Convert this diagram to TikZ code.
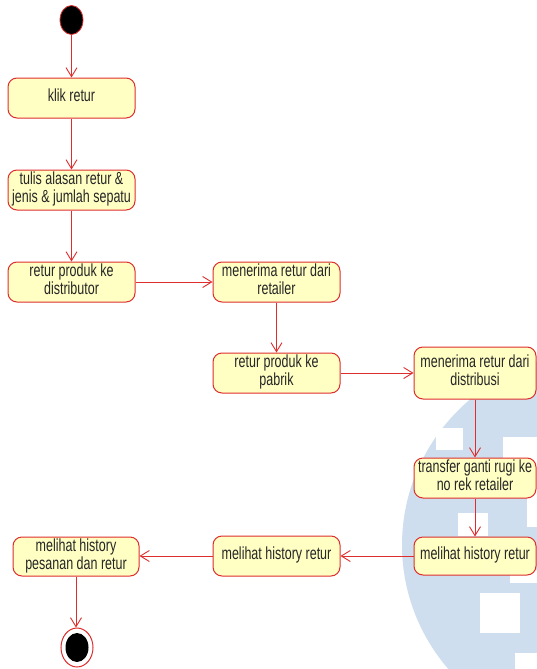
\documentclass[tikz,border=0pt]{standalone}
\usepackage{fontspec}
\setmainfont{Liberation Sans}
\usetikzlibrary{arrows.meta,shapes.geometric}
\definecolor{umlred}{RGB}{222,45,45}
\definecolor{umlfill}{RGB}{255,255,196}
\definecolor{wmblue}{RGB}{206,222,238}
% activity label: centred lines, stretched a little vertically
\newcommand{\lbl}[1]{\scalebox{1}[1.4]{\fontsize{12.5}{12}\selectfont\begin{tabular}{@{}c@{}}#1\end{tabular}}}
\begin{document}
\begin{tikzpicture}[x=1pt,y=-1pt,
  act/.style={rectangle, rounded corners=9pt, draw=umlred, fill=umlfill,
    line width=1pt, inner sep=0pt, align=center, text=black!85},
  flow/.style={draw=umlred, line width=0.9pt,
    -{Straight Barb[length=9pt,width=11pt,line width=0.9pt]}},
  startnode/.style={ellipse, draw=umlred, fill=black, line width=0.8pt,
    minimum width=23pt, minimum height=29pt, inner sep=0pt},
  endouter/.style={ellipse, draw=umlred, fill=white, line width=1pt,
    minimum width=32pt, minimum height=39pt, inner sep=0pt},
  endinner/.style={ellipse, fill=black,
    minimum width=23pt, minimum height=29pt, inner sep=0pt}]
\useasboundingbox (0,0) rectangle (537,669);

% faint background emblem
\begin{scope}
  \clip (0,0) rectangle (537,669);
  \fill[wmblue] (600,545) ellipse [x radius=198, y radius=193];
  \fill[white] (436,428) rectangle (463,450);
  \fill[white] (503,437) rectangle (537,458);
  \fill[white] (527,458) rectangle (537,527);
  \fill[white] (458,513) rectangle (488,536);
  \fill[white] (510,570) rectangle (537,583);
  \fill[white] (480,593) rectangle (520,633);
  \fill[white] (515,653) rectangle (537,669);
\end{scope}

% states
\node[startnode] (start) at (71.5,20) {};
\node[act, minimum width=127pt, minimum height=40pt] (klik) at (71.5,98) {\lbl{klik retur}};
\node[act, minimum width=127pt, minimum height=40pt] (tulis) at (71.5,190) {\lbl{tulis alasan retur \&\\jenis \& jumlah sepatu}};
\node[act, minimum width=127pt, minimum height=40pt] (distr) at (71.5,282) {\lbl{retur produk ke\\distributor}};
\node[act, minimum width=127pt, minimum height=40pt] (retailer) at (276.5,282) {\lbl{menerima retur dari\\retailer}};
\node[act, minimum width=127pt, minimum height=40pt] (pabrik) at (276.5,373) {\lbl{retur produk ke\\pabrik}};
\node[act, minimum width=122pt, minimum height=52pt] (distribusi) at (475,373) {\lbl{menerima retur dari\\distribusi}};
\node[act, minimum width=122pt, minimum height=40pt] (transfer) at (475,478) {\lbl{transfer ganti rugi ke\\no rek retailer}};
\node[act, minimum width=122pt, minimum height=38pt] (hisR) at (475,556) {\lbl{melihat history retur}};
\node[act, minimum width=127pt, minimum height=40pt] (hisM) at (276.5,556) {\lbl{melihat history retur}};
\node[act, minimum width=126pt, minimum height=39pt] (hisL) at (76,556.5) {\lbl{melihat history\\pesanan dan retur}};
\node[endouter] (stop) at (77,647.5) {};
\node[endinner] (stopin) at (77,647.5) {};

% transitions
\draw[flow] (start.south) -- (klik.north);
\draw[flow] (klik.south) -- (tulis.north);
\draw[flow] (tulis.south) -- (distr.north);
\draw[flow] (distr.east) -- (distr.east -| retailer.west);
\draw[flow] (retailer.south) -- (retailer.south |- pabrik.north);
\draw[flow] (pabrik.east) -- (pabrik.east -| distribusi.west);
\draw[flow] (distribusi.south) -- (distribusi.south |- transfer.north);
\draw[flow] (transfer.south) -- (transfer.south |- hisR.north);
\draw[flow] (hisR.west) -- (hisR.west -| hisM.east);
\draw[flow] (hisM.west) -- (hisM.west -| hisL.east);
\draw[flow] (hisL.south |- hisL.south) -- (hisL.south |- stop.north);
\end{tikzpicture}
\end{document}
